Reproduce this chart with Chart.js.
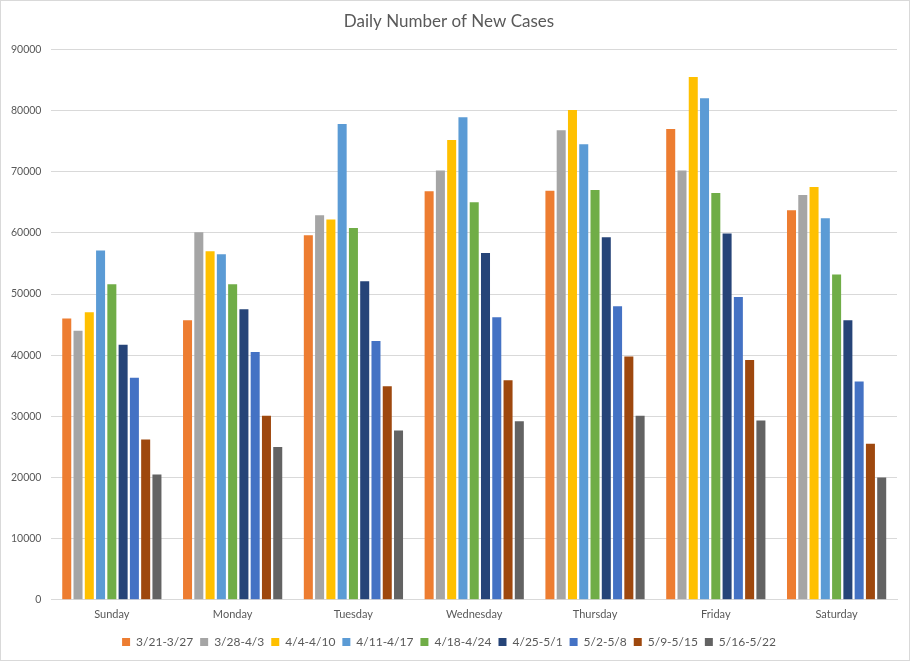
<!DOCTYPE html>
<html>
<head>
<meta charset="utf-8">
<script src="https://cdn.jsdelivr.net/npm/chart.js@4"></script>
<style>
  html, body { margin: 0; padding: 0; background: #fff; }
  #wrap { width: 910px; height: 661px; box-sizing: border-box; border: 1px solid #d9d9d9; }
</style>
</head>
<body>
<div id="wrap"><canvas id="casesChart" width="908" height="659"></canvas></div>
<script>
const days = ['Sunday', 'Monday', 'Tuesday', 'Wednesday', 'Thursday', 'Friday', 'Saturday'];
const weeks = ['3/21-3/27', '3/28-4/3', '4/4-4/10', '4/11-4/17', '4/18-4/24', '4/25-5/1', '5/2-5/8', '5/9-5/15', '5/16-5/22'];
const colors = ['#ED7D31', '#A5A5A5', '#FFC000', '#5B9BD5', '#70AD47', '#264478', '#4472C4', '#9E480E', '#636363'];

// one array per week, Sunday..Saturday
const w0321 = [46000, 45700, 59600, 66800, 66900, 77000, 63700];
const w0328 = [44000, 60100, 62900, 70200, 76800, 70200, 66200];
const w0404 = [47000, 57000, 62200, 75200, 80100, 85500, 67500];
const w0411 = [57100, 56500, 77800, 78900, 74500, 82000, 62400];
const w0418 = [51600, 51600, 60800, 65000, 67000, 66500, 53200];
const w0425 = [41700, 47500, 52100, 56700, 59300, 59900, 45700];
const w0502 = [36300, 40500, 42300, 46200, 48000, 49500, 35700];
const w0509 = [26200, 30100, 34900, 35900, 39800, 39200, 25500];
const w0516 = [20500, 25000, 27700, 29200, 30100, 29300, 20000];
const series = [w0321, w0328, w0404, w0411, w0418, w0425, w0502, w0509, w0516];

const FONT = 'Lato, "Open Sans", sans-serif';
const TXT = '#595959';

new Chart(document.getElementById('casesChart').getContext('2d'), {
  type: 'bar',
  data: {
    labels: days,
    datasets: series.map((vals, i) => ({
      label: weeks[i],
      data: vals,
      backgroundColor: colors[i],
      borderWidth: 0,
      categoryPercentage: 0.84,
      barPercentage: 0.8
    }))
  },
  options: {
    responsive: false,
    animation: false,
    layout: { padding: { left: 0, right: 12, top: 8, bottom: 2 } },
    plugins: {
      title: {
        display: true,
        text: 'Daily Number of New Cases',
        color: TXT,
        font: { family: FONT, size: 17, weight: 'normal' },
        padding: { top: 2, bottom: 18 }
      },
      legend: {
        position: 'bottom',
        labels: {
          color: TXT,
          font: { family: FONT, size: 12 },
          boxWidth: 8,
          boxHeight: 8,
          padding: 7
        }
      },
      tooltip: { enabled: false }
    },
    scales: {
      x: {
        grid: { display: false, drawTicks: false },
        border: { color: '#d9d9d9' },
        ticks: { color: TXT, font: { family: FONT, size: 11 }, padding: 8 }
      },
      y: {
        min: 0,
        max: 90000,
        grid: { color: '#d9d9d9', drawTicks: false },
        border: { display: false },
        ticks: {
          stepSize: 10000,
          color: TXT,
          font: { family: FONT, size: 10.5 },
          padding: 10,
          callback: v => String(v)
        }
      }
    }
  }
});
</script>
</body>
</html>
